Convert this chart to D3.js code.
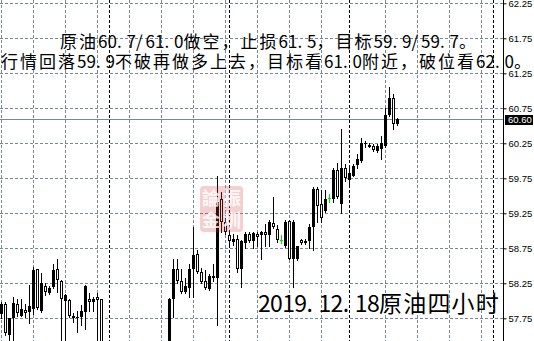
<!DOCTYPE html>
<html>
<head>
<meta charset="utf-8">
<script src="https://cdn.jsdelivr.net/npm/d3@7"></script>
<style>
  html, body { margin: 0; padding: 0; background: #fff; overflow: hidden; }
  svg { display: block; }
</style>
</head>
<body>
<div id="chart"></div>
<script>
// 4h bars of crude oil, oldest first (bars 26-41 sit below the visible price range)
var open  = [57.81,57.95,57.51,57.75,57.95,57.79,57.87,57.84,57.89,58.45,
             57.86,58.21,58.11,58.20,58.45,58.29,58.00,58.01,57.79,57.75,
             57.77,57.84,58.02,57.98,58.05,58.02,57.36,57.12,57.20,57.08,
             56.98,57.05,57.22,57.15,57.00,57.10,57.25,57.18,57.06,57.16,
             57.28,57.22,57.30,58.02,58.45,58.29,58.13,58.19,58.45,58.67,
             58.41,58.29,58.17,58.36,58.33,59.45,59.13,58.94,58.84,58.89,
             58.45,58.83,58.96,58.85,58.95,58.94,58.98,58.94,59.11,59.03,
             58.87,58.79,59.14,58.60,58.60,58.87,58.83,58.86,59.06,59.60,
             59.38,59.29,59.47,59.46,59.87,59.38,59.90,59.73,59.79,59.94,
             60.00,60.24,60.20,60.21,60.14,60.17,60.21,60.65,60.89,60.52];
var high  = [57.98,57.98,57.76,58.06,58.02,58.03,57.95,58.22,58.48,58.46,
             58.39,58.25,58.21,58.53,58.59,58.30,58.10,58.02,57.82,57.85,
             57.94,58.22,58.11,58.06,58.11,58.03,57.38,57.25,57.30,57.18,
             57.10,57.28,57.35,57.22,57.12,57.30,57.36,57.26,57.20,57.32,
             57.38,57.35,58.04,58.59,58.59,58.45,58.32,58.52,59.05,58.73,
             58.47,58.44,58.38,58.52,59.79,59.55,59.21,58.98,58.95,58.94,
             58.87,58.98,58.98,58.98,58.98,59.00,59.09,59.15,59.48,59.08,
             58.94,59.15,59.16,59.15,58.79,58.89,58.89,59.10,59.62,59.63,
             59.58,59.58,59.53,59.89,59.97,60.45,59.96,59.94,59.95,60.10,
             60.32,60.28,60.25,60.24,60.24,60.35,60.75,61.05,60.96,60.61];
var low   = [57.75,57.51,57.38,57.44,57.79,57.78,57.77,57.68,57.81,57.89,
             57.84,58.08,58.09,58.19,58.13,57.35,57.38,57.77,57.70,57.55,
             57.65,57.59,57.85,57.86,57.30,57.30,57.05,56.95,57.02,56.90,
             56.85,57.00,57.10,56.95,56.88,57.05,57.12,57.00,56.98,57.10,
             57.15,57.12,57.28,57.77,58.25,58.11,58.11,58.05,58.05,58.39,
             58.25,58.17,58.15,58.29,57.66,58.98,58.96,58.79,58.80,58.41,
             58.20,58.76,58.84,58.75,58.79,58.60,58.78,58.79,59.04,58.84,
             58.83,58.77,58.59,58.20,58.58,58.81,58.81,58.75,58.72,59.13,
             59.13,59.27,59.41,59.41,59.47,59.25,59.71,59.64,59.79,59.89,
             59.98,60.20,60.20,60.14,60.13,60.02,60.20,60.64,60.46,60.51];
var close = [57.96,57.54,57.75,57.97,57.83,57.89,57.83,57.92,58.44,57.90,
             58.25,58.13,58.19,58.44,58.30,58.02,58.08,57.79,57.75,57.77,
             57.85,58.21,57.98,58.03,58.01,57.36,57.12,57.20,57.08,56.98,
             57.05,57.22,57.15,57.00,57.10,57.25,57.18,57.06,57.16,57.28,
             57.22,57.30,58.03,58.45,58.29,58.13,58.21,58.46,58.66,58.41,
             58.27,58.19,58.35,58.32,59.41,59.13,58.98,58.85,58.89,58.45,
             58.85,58.95,58.85,58.97,58.91,58.98,58.94,59.13,59.05,58.87,
             58.87,59.13,58.60,59.13,58.78,58.82,58.86,59.06,59.60,59.36,
             59.19,59.46,59.47,59.87,59.48,59.90,59.76,59.82,59.92,60.02,
             60.25,60.26,60.22,60.16,60.21,60.25,60.65,60.89,60.53,60.60];

var priceTicks = [57.75, 58.25, 58.75, 59.25, 59.75, 60.25, 60.75, 61.25, 61.75, 62.25];
var gridBars = [0, 8, 16, 24, 32, 40, 48, 56, 64, 72, 80, 96, 104, 112, 120];
var separatorBars = [27, 57, 87, 123];
var bid = 60.60;

var noteLines = [
  "原油60.7/61.0做空，止损61.5，目标59.9/59.7。",
  "行情回落59.9不破再做多上去，目标看61.0附近，破位看62.0。"
];
var title = "2019.12.18原油四小时";
var stampChars = ["論", "振", "金", "圳"];

var width = 534, height = 341, axisX = 503.5;
var gridColor = "#778899";
var cjk = "'Noto Sans CJK SC', sans-serif";

var svg = d3.select("#chart")
  .append("svg")
    .attr("width", width)
    .attr("height", height);

// one bar every 4 px, price 70 px per dollar
var x = d3.scaleLinear().domain([0, 125]).range([1.4, 501.4]);
var y = d3.scaleLinear().domain([57.75, 62.25]).range([318.3, 3.3]);

svg.append("clipPath").attr("id", "plot")
  .append("rect").attr("x", 0).attr("y", 0).attr("width", axisX).attr("height", height);

var plot = svg.append("g").attr("clip-path", "url(#plot)");

// price grid
plot.append("g").selectAll("line")
  .data(priceTicks)
  .enter().append("line")
    .attr("x1", 0).attr("x2", axisX)
    .attr("y1", function(d) { return Math.round(y(d)) + 0.5; })
    .attr("y2", function(d) { return Math.round(y(d)) + 0.5; })
    .attr("stroke", gridColor)
    .attr("stroke-dasharray", "3,2");

// time grid
plot.append("g").selectAll("line")
  .data(gridBars)
  .enter().append("line")
    .attr("x1", function(d) { return Math.round(x(d)) + 0.5; })
    .attr("x2", function(d) { return Math.round(x(d)) + 0.5; })
    .attr("y1", 0).attr("y2", height)
    .attr("stroke", gridColor)
    .attr("stroke-dasharray", "3,2");

// period separators
plot.append("g").selectAll("line")
  .data(separatorBars)
  .enter().append("line")
    .attr("x1", function(d) { return Math.round(x(d)) + 0.5; })
    .attr("x2", function(d) { return Math.round(x(d)) + 0.5; })
    .attr("y1", 0).attr("y2", height)
    .attr("stroke", "#000")
    .attr("stroke-dasharray", "3,2");

// bid line
plot.append("line")
  .attr("x1", 0).attr("x2", axisX)
  .attr("y1", Math.round(y(bid)) + 0.5)
  .attr("y2", Math.round(y(bid)) + 0.5)
  .attr("stroke", gridColor);

// candles: black body = up bar, white body = down bar, green cross = doji
var candle = plot.append("g").selectAll("g")
  .data(d3.range(open.length))
  .enter().append("g");

candle.append("line")
  .attr("x1", function(i) { return Math.round(x(i)) + 0.5; })
  .attr("x2", function(i) { return Math.round(x(i)) + 0.5; })
  .attr("y1", function(i) { return Math.round(y(high[i])); })
  .attr("y2", function(i) { return Math.round(y(low[i])) + 1; })
  .attr("stroke", function(i) { return open[i] == close[i] ? "#00e000" : "#000"; });

candle.filter(function(i) { return close[i] > open[i]; })
  .append("rect")
    .attr("x", function(i) { return Math.round(x(i)) - 1; })
    .attr("y", function(i) { return Math.round(y(close[i])); })
    .attr("width", 3)
    .attr("height", function(i) { return Math.max(1, Math.round(y(open[i])) - Math.round(y(close[i]))); })
    .attr("fill", "#000");

candle.filter(function(i) { return close[i] < open[i]; })
  .append("rect")
    .attr("x", function(i) { return Math.round(x(i)) - 0.5; })
    .attr("y", function(i) { return Math.round(y(open[i])) + 0.5; })
    .attr("width", 2)
    .attr("height", function(i) { return Math.max(0, Math.round(y(close[i])) - Math.round(y(open[i])) - 1); })
    .attr("fill", "#fff")
    .attr("stroke", "#000");

candle.filter(function(i) { return close[i] == open[i]; })
  .append("line")
    .attr("x1", function(i) { return Math.round(x(i)) - 1; })
    .attr("x2", function(i) { return Math.round(x(i)) + 2; })
    .attr("y1", function(i) { return Math.round(y(close[i])) + 0.5; })
    .attr("y2", function(i) { return Math.round(y(close[i])) + 0.5; })
    .attr("stroke", "#00e000");

// red seal watermark
var seal = svg.append("g").attr("transform", "translate(200,186)");
seal.append("rect")
  .attr("width", 43).attr("height", 46).attr("rx", 4)
  .attr("fill", "#d04040").attr("opacity", 0.25);
seal.selectAll("text")
  .data(stampChars)
  .enter().append("text")
    .attr("x", function(d, i) { return 11 + (i % 2) * 21; })
    .attr("y", function(d, i) { return 19 + Math.floor(i / 2) * 22; })
    .attr("text-anchor", "middle")
    .attr("font-family", "'Noto Sans CJK TC', sans-serif")
    .attr("font-weight", "bold")
    .attr("font-size", 18)
    .attr("fill", "#fff")
    .attr("opacity", 0.8)
    .text(function(d) { return d; });

// right price axis
svg.append("line")
  .attr("x1", axisX).attr("x2", axisX)
  .attr("y1", 0).attr("y2", height)
  .attr("stroke", "#000");

svg.append("g")
    .attr("transform", "translate(" + axisX + ",0)")
    .attr("font-family", "'Liberation Sans', Arial, sans-serif")
    .call(d3.axisRight(y).tickValues(priceTicks).tickSize(3).tickPadding(2).tickFormat(d3.format(".2f")))
    .call(function(g) { g.select(".domain").remove(); })
    .selectAll("text").attr("font-size", 9.5).attr("fill", "#000");

svg.append("rect")
  .attr("x", 505).attr("y", Math.round(y(bid)) - 4)
  .attr("width", 28).attr("height", 10)
  .attr("fill", "#000");
svg.append("text")
  .attr("x", 508).attr("y", Math.round(y(bid)) + 4)
  .attr("font-family", "'Liberation Sans', Arial, sans-serif")
  .attr("font-size", 9.5)
  .attr("fill", "#fff")
  .text(d3.format(".2f")(bid));

// monospace-like cells: ascii gets half a cell, CJK a full one
function cellX(str, x0, full) {
  var xs = [], cx = x0;
  Array.from(str).forEach(function(ch) {
    xs.push(cx.toFixed(1));
    cx += ch.charCodeAt(0) < 128 ? full / 2 : full;
  });
  return xs.join(" ");
}

// comment text
svg.append("text")
  .attr("x", cellX(noteLines[0], 60, 19)).attr("y", 48)
  .attr("font-family", cjk).attr("font-size", 17)
  .attr("fill", "#000")
  .text(noteLines[0]);
svg.append("text")
  .attr("x", cellX(noteLines[1], 1, 19)).attr("y", 68)
  .attr("font-family", cjk).attr("font-size", 17)
  .attr("fill", "#000")
  .text(noteLines[1]);

svg.append("text")
  .attr("x", cellX(title, 258, 24.2)).attr("y", 312)
  .attr("font-family", cjk).attr("font-size", 23)
  .attr("fill", "#000")
  .text(title);
</script>
</body>
</html>
